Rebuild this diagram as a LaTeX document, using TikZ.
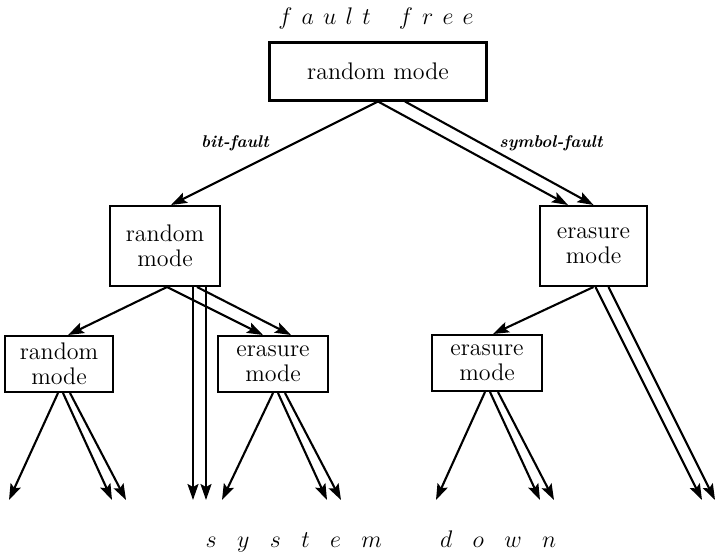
\documentclass[tikz,border=0pt]{standalone}
\usetikzlibrary{arrows.meta}

\tikzset{
  mbox/.style={draw, line width=1pt, align=center, inner sep=0pt, font=\fontsize{12}{12.5}\selectfont},
  arr/.style={line width=1.05pt, -{Stealth[length=8pt,width=5.5pt,inset=1.5pt]}},
  flt/.style={font=\fontsize{8.5}{10}\selectfont\bfseries\itshape},
  spaced/.style={font=\fontsize{12}{14}\selectfont},
}

\begin{document}
\begin{tikzpicture}[x=0.5pt,y=0.5pt,yscale=-1,xscale=1]
\useasboundingbox (0,0) rectangle (718,558);

%Boxes
\draw (378,71) node [mbox, line width=1.5pt, minimum width=108.5pt, minimum height=29pt] (top) {random mode};
\draw (165,246) node [mbox, minimum width=55pt, minimum height=40pt] (ml) {random\\mode};
\draw (593.5,246) node [mbox, minimum width=53.5pt, minimum height=40pt] (mr) {erasure\\mode};
\draw (59,364) node [mbox, minimum width=54pt, minimum height=28pt] (bl) {random\\mode};
\draw (273,364) node [mbox, minimum width=55pt, minimum height=28pt] (bm) {erasure\\mode};
\draw (487,363) node [mbox, minimum width=55pt, minimum height=28pt] (br) {erasure\\mode};

%ends of the arrows into system down
\foreach \n/\x in {1/9,2/112,3/126,4/193,5/206,6/222,7/327,8/341,9/436,10/540,11/554,12/702,13/715}
  \coordinate (dn\n) at (\x,500);

%Straight Lines from the top box
\draw [arr] (top.south) -- ([xshift=3pt]ml.north);
\draw [arr] (top.south) -- ([xshift=-12.75pt]mr.north);
\draw [arr] ([xshift=13.5pt]top.south) -- (mr.north);

%Straight Lines from the left random mode
\draw [arr] ([xshift=1pt]ml.south) -- ([xshift=4.5pt]bl.north);
\draw [arr] ([xshift=1pt]ml.south) -- ([xshift=-5pt]bm.north);
\draw [arr] ([xshift=16pt]ml.south) -- ([xshift=9pt]bm.north);
\draw [arr] ([xshift=14pt]ml.south) -- (dn4);
\draw [arr] ([xshift=20.5pt]ml.south) -- (dn5);

%Straight Lines from the right erasure mode
\draw [arr] (mr.south) -- ([xshift=3pt]br.north);
\draw [arr] ([xshift=1pt]mr.south) -- (dn12);
\draw [arr] ([xshift=7.5pt]mr.south) -- (dn13);

%Straight Lines from the bottom boxes
\draw [arr] ([xshift=-0.5pt]bl.south) -- (dn1);
\draw [arr] ([xshift=2pt]bl.south) -- (dn2);
\draw [arr] ([xshift=5.5pt]bl.south) -- (dn3);
\draw [arr] (bm.south) -- (dn6);
\draw [arr] ([xshift=2.5pt]bm.south) -- (dn7);
\draw [arr] ([xshift=6pt]bm.south) -- (dn8);
\draw [arr] ([xshift=-1pt]br.south) -- (dn9);
\draw [arr] ([xshift=1.5pt]br.south) -- (dn10);
\draw [arr] ([xshift=5.5pt]br.south) -- (dn11);

% Text Node
\draw (235,143) node [flt] (bitf) {bit-fault};
% Text Node
\draw (551,143) node [flt] (symf) {symbol-fault};
% Text Node
\draw (376,18) node [spaced] (ffree) {$f\hskip4.6pt a\hskip4.6pt u\hskip4.6pt l\hskip4.6pt t\hskip14pt f\hskip4.6pt r\hskip4.6pt e\hskip4.6pt e$};
% Text Node
\draw (381,541) node [spaced] (sdown) {$s\hskip10.2pt y\hskip10.2pt s\hskip10.2pt t\hskip10.2pt e\hskip10.2pt m\hskip29pt d\hskip10.2pt o\hskip10.2pt w\hskip10.2pt n$};

\end{tikzpicture}
\end{document}
